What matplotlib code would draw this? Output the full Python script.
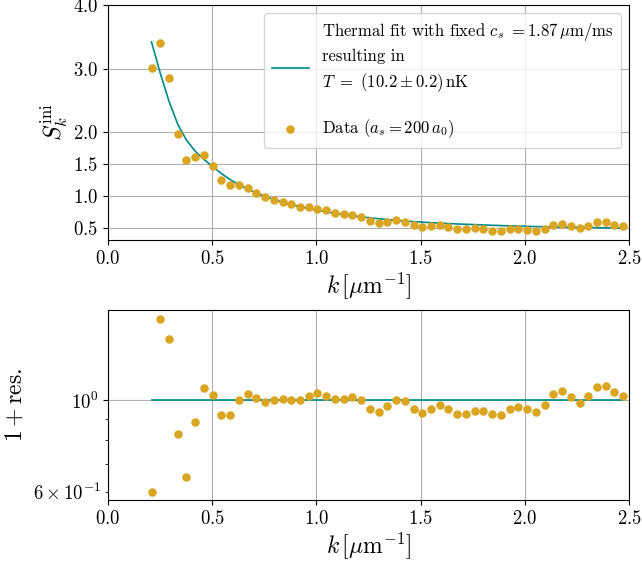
import matplotlib
matplotlib.use("Agg")
import matplotlib.pyplot as plt

plt.rcParams.update({
    "font.family": "serif",
    "font.serif": ["cmr10"],
    "mathtext.fontset": "cm",
    "axes.formatter.use_mathtext": True,
    "axes.unicode_minus": False,
})

# wavenumbers k [1/um]
k_vals = [0.2094, 0.2513, 0.2932, 0.3351, 0.3770, 0.4189, 0.4608, 0.5027, 0.5445, 0.5864,
          0.6283, 0.6702, 0.7121, 0.7540, 0.7959, 0.8378, 0.8796, 0.9215, 0.9634, 1.0053,
          1.0472, 1.0891, 1.1310, 1.1729, 1.2147, 1.2566, 1.2985, 1.3404, 1.3823, 1.4242,
          1.4661, 1.5080, 1.5499, 1.5917, 1.6336, 1.6755, 1.7174, 1.7593, 1.8012, 1.8431,
          1.8850, 1.9268, 1.9687, 2.0106, 2.0525, 2.0944, 2.1363, 2.1782, 2.2201, 2.2619,
          2.3038, 2.3457, 2.3876, 2.4295, 2.4714]

# measured static structure factor
s_data = [3.019, 3.410, 2.851, 1.975, 1.568, 1.610, 1.646, 1.474, 1.260, 1.172,
          1.172, 1.135, 1.056, 0.984, 0.942, 0.911, 0.869, 0.833, 0.822, 0.806,
          0.775, 0.728, 0.712, 0.703, 0.665, 0.609, 0.577, 0.593, 0.618, 0.598,
          0.546, 0.520, 0.531, 0.551, 0.520, 0.477, 0.477, 0.493, 0.488, 0.457,
          0.457, 0.477, 0.488, 0.468, 0.457, 0.488, 0.551, 0.567, 0.531, 0.499,
          0.531, 0.587, 0.593, 0.551, 0.531]

# thermal fit curve
s_fit = [3.420, 2.930, 2.490, 2.130, 1.880, 1.705, 1.575, 1.465, 1.355, 1.260,
         1.180, 1.110, 1.050, 0.995, 0.948, 0.905, 0.868, 0.835, 0.805, 0.778,
         0.754, 0.731, 0.711, 0.692, 0.675, 0.659, 0.645, 0.632, 0.620, 0.609,
         0.600, 0.592, 0.584, 0.577, 0.570, 0.564, 0.558, 0.553, 0.548, 0.543,
         0.538, 0.534, 0.530, 0.526, 0.523, 0.520, 0.517, 0.514, 0.511, 0.509,
         0.507, 0.505, 0.503, 0.501, 0.499]

# 1 + residuals
res_vals = [0.601, 1.568, 1.409, 0.829, 0.653, 0.884, 1.073, 1.030, 0.923, 0.923,
            1.000, 1.034, 1.011, 0.991, 1.000, 1.009, 1.001, 1.002, 1.024, 1.041,
            1.025, 1.004, 1.004, 1.018, 0.999, 0.954, 0.935, 0.967, 1.003, 0.996,
            0.952, 0.930, 0.951, 0.972, 0.954, 0.925, 0.925, 0.944, 0.944, 0.925,
            0.922, 0.950, 0.963, 0.950, 0.935, 0.973, 1.034, 1.053, 1.015, 0.987,
            1.022, 1.079, 1.085, 1.044, 1.021]
res_line = [1.0] * len(k_vals)

top_yticks = [0.5, 1.0, 1.5, 2.0, 3.0, 4.0]
x_ticks = [0.0, 0.5, 1.0, 1.5, 2.0, 2.5]

fit_label = ("Thermal fit with fixed $c_s\\ = 1.87\\,\\mu\\mathrm{m/ms}$\n"
             "resulting in\n"
             "$T\\ =\\ (10.2 \\pm 0.2)\\,\\mathrm{nK}$\n ")
data_label = "Data $(a_s = 200\\,a_0)$"

line_color = "#008b8b"
dot_color = "#daa520"

fig = plt.figure(figsize=(6.42, 5.61), dpi=100)
ax1 = fig.add_axes([0.168, 0.572, 0.812, 0.419])
ax2 = fig.add_axes([0.168, 0.109, 0.812, 0.338])

ax1.plot(k_vals, s_fit, color=line_color, linewidth=1.2, label=fit_label)
ax1.scatter(k_vals, s_data, s=26, color=dot_color, zorder=3, label=data_label)
ax1.set_xlim(0, 2.5)
ax1.set_ylim(0.31, 4.0)
ax1.set_yticks(top_yticks)
ax1.set_xticks(x_ticks)
ax1.set_xlabel("$k\\,[\\mu\\mathrm{m}^{-1}]$", fontsize=17, labelpad=2)
ax1.set_ylabel("$S_k^{\\mathrm{ini}}$", fontsize=17, labelpad=2)
ax1.tick_params(labelsize=13.5)
ax1.grid(True)
leg = ax1.legend(loc="upper right", fontsize=12, handlelength=2.2, borderpad=0.45,
                 labelspacing=0.2, handletextpad=0.8)
leg.get_texts()[0].set_linespacing(1.45)

ax2.plot(k_vals, res_line, color=line_color, linewidth=1.2)
ax2.scatter(k_vals, res_vals, s=26, color=dot_color, zorder=3)
ax2.set_yscale("log")
ax2.set_xlim(0, 2.5)
ax2.set_ylim(0.574, 1.65)
ax2.set_xticks(x_ticks)
ax2.set_xlabel("$k\\,[\\mu\\mathrm{m}^{-1}]$", fontsize=17, labelpad=2)
ax2.set_ylabel("$1 + \\mathrm{res.}$", fontsize=17)
ax2.tick_params(labelsize=13.5, which="both")
ax2.grid(True)

fig.savefig("out.png", dpi=100)
